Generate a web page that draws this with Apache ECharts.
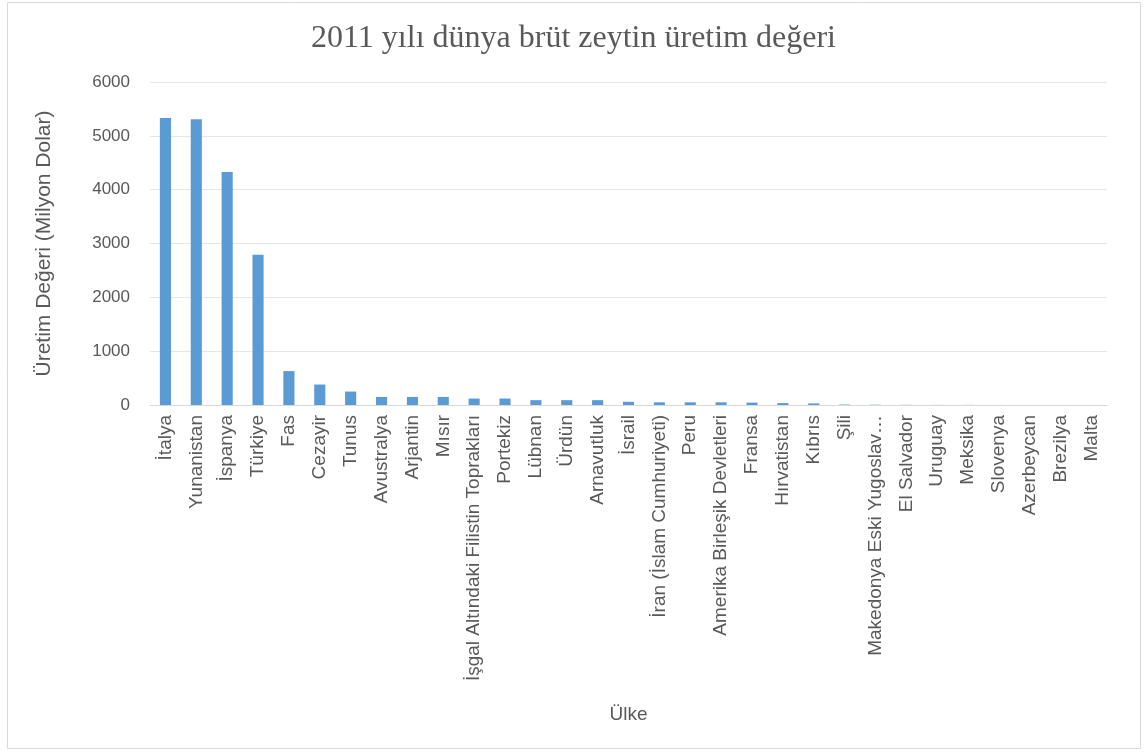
<!DOCTYPE html>
<html>
<head>
<meta charset="utf-8">
<script src="https://cdn.jsdelivr.net/npm/echarts@6/dist/echarts.min.js"></script>
<style>
html,body{margin:0;padding:0;background:#fff;}
#chart{width:1147px;height:753px;}
</style>
</head>
<body>
<div id="chart"></div>
<script>
const titleText = '2011 yılı dünya brüt zeytin üretim değeri';
const xAxisTitle = 'Ülke';
const yAxisTitle = 'Üretim Değeri (Milyon Dolar)';
const countries = ['İtalya','Yunanistan','İspanya','Türkiye','Fas','Cezayir','Tunus','Avustralya','Arjantin','Mısır','İşgal Altındaki Filistin Toprakları','Portekiz','Lübnan','Ürdün','Arnavutluk','İsrail','İran (İslam Cumhuriyeti)','Peru','Amerika Birleşik Devletleri','Fransa','Hırvatistan','Kıbrıs','Şili','Makedonya Eski Yugoslav…','El Salvador','Uruguay','Meksika','Slovenya','Azerbeycan','Brezilya','Malta'];
const values = [5330,5310,4330,2790,630,380,250,150,150,150,120,120,90,90,90,60,50,50,50,45,35,30,8,5,3,2,2,1,1,1,0.5];
const yTicks = {min:0,max:6000,interval:1000};

const chart = echarts.init(document.getElementById('chart'));
chart.setOption({
  backgroundColor:'#fff',
  animation:false,
  graphic:[{type:'rect',shape:{x:7.5,y:2.5,width:1133,height:746},style:{fill:'none',stroke:'#d9d9d9',lineWidth:1}}],
  title:{text:titleText,left:'center',top:18,textStyle:{fontFamily:'Liberation Serif',fontSize:32,fontWeight:'normal',color:'#595959'}},
  grid:{left:150,right:40,top:82,bottom:348,containLabel:false},
  xAxis:{type:'category',data:countries,name:xAxisTitle,nameLocation:'middle',nameGap:300,
    nameTextStyle:{fontFamily:'Liberation Sans Narrow, Liberation Sans',fontSize:19,color:'#595959'},
    axisLine:{lineStyle:{color:'#d9d9d9'}},axisTick:{show:false},
    axisLabel:{interval:0,rotate:90,margin:10,fontFamily:'Liberation Sans Narrow, Liberation Sans',fontSize:19,color:'#595959'}},
  yAxis:{type:'value',min:yTicks.min,max:yTicks.max,interval:yTicks.interval,name:yAxisTitle,nameLocation:'middle',nameGap:95,
    nameTextStyle:{fontFamily:'Liberation Sans Narrow, Liberation Sans',fontSize:21,color:'#595959'},
    axisLine:{show:false},axisTick:{show:false},
    axisLabel:{margin:20,fontFamily:'Liberation Sans Narrow, Liberation Sans',fontSize:17,color:'#595959',formatter:function(v){return String(v);}},
    splitLine:{lineStyle:{color:'#e6e6e6'}}},
  series:[{type:'bar',data:values,barWidth:'36%',itemStyle:{color:'#5b9bd5'}}]
});
</script>
</body>
</html>
